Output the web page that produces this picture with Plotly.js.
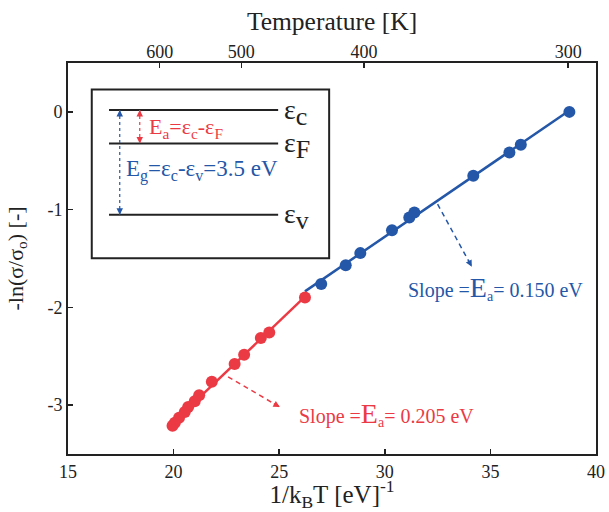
<!DOCTYPE html>
<html>
<head>
<meta charset="utf-8">
<script src="https://cdn.plot.ly/plotly-3.0.1.min.js"></script>
<style>html,body{margin:0;padding:0;background:#fff;}#chart{width:609px;height:512px;}</style>
</head>
<body>
<div id="chart"></div>
<script>
// ---- data ----
const blueX = [26.99, 28.15, 28.84, 30.34, 31.16, 31.40, 34.19, 35.90, 36.44, 38.74];
const blueY = [-1.76, -1.57, -1.445, -1.21, -1.08, -1.03, -0.654, -0.416, -0.337, 0.0];
const redX = [19.95, 20.06, 20.26, 20.53, 20.69, 21.00, 21.21, 21.81, 22.89, 23.34, 24.13, 24.53, 26.22];
const redY = [-3.21, -3.18, -3.13, -3.07, -3.02, -2.96, -2.90, -2.76, -2.58, -2.485, -2.314, -2.257, -1.90];
const tempK = [600, 500, 400, 300];
const tempLabels = ['600', '500', '400', '300'];
const xTickVals = [15, 20, 25, 30, 35, 40];
const xTickText = ['15', '20', '25', '30', '35', '40'];
const yTickVals = [0, -1, -2, -3];
const yTickText = ['0', '-1', '-2', '-3'];
const kB = 8.617333e-5; // eV/K

const BLUE = '#2457a8';
const RED = '#ec3a45';
const INK = '#222222';
const FONT = 'Liberation Serif';

function fit(xs, ys) {
  const n = xs.length;
  const mx = xs.reduce((a, b) => a + b, 0) / n;
  const my = ys.reduce((a, b) => a + b, 0) / n;
  let sxy = 0, sxx = 0;
  for (let i = 0; i < n; i++) { sxy += (xs[i] - mx) * (ys[i] - my); sxx += (xs[i] - mx) ** 2; }
  const m = sxy / sxx;
  return { m: m, b: my - m * mx };
}
const fb = fit(blueX, blueY);
const fr = fit(redX, redY);
const blueLineX = [Math.max(...redX), Math.max(...blueX)];
const redLineX = [Math.min(...redX), Math.max(...redX)];
const tempTickX = tempK.map(T => 1 / (kB * T));

const traces = [
  { x: redLineX, y: redLineX.map(v => fr.m * v + fr.b), mode: 'lines', line: { color: RED, width: 2.5 }, hoverinfo: 'skip', showlegend: false },
  { x: blueLineX, y: blueLineX.map(v => fb.m * v + fb.b), mode: 'lines', line: { color: BLUE, width: 2.5 }, hoverinfo: 'skip', showlegend: false },
  { x: redX, y: redY, mode: 'markers', marker: { color: RED, size: 12 }, showlegend: false },
  { x: blueX, y: blueY, mode: 'markers', marker: { color: BLUE, size: 12 }, showlegend: false },
  { x: tempTickX, y: tempTickX.map(() => null), xaxis: 'x2', mode: 'markers', showlegend: false, hoverinfo: 'skip' }
];

// inset geometry (paper coords)
const box = { x0: 0.045, x1: 0.4946, y0: 0.5004, y1: 0.9325 };
const lvl = { c: 0.8795, F: 0.794, v: 0.6118 };
const lvlX = [0.0777, 0.398];
const blueArrX = 0.098, redArrX = 0.1359;

const shapes = [
  { type: 'rect', xref: 'paper', yref: 'paper', x0: box.x0, x1: box.x1, y0: box.y0, y1: box.y1, line: { color: INK, width: 2 } },
  { type: 'line', xref: 'paper', yref: 'paper', x0: lvlX[0], x1: lvlX[1], y0: lvl.c, y1: lvl.c, line: { color: INK, width: 2 } },
  { type: 'line', xref: 'paper', yref: 'paper', x0: lvlX[0], x1: lvlX[1], y0: lvl.F, y1: lvl.F, line: { color: INK, width: 2 } },
  { type: 'line', xref: 'paper', yref: 'paper', x0: lvlX[0], x1: lvlX[1], y0: lvl.v, y1: lvl.v, line: { color: INK, width: 2 } },
  { type: 'line', xref: 'paper', yref: 'paper', x0: blueArrX, x1: blueArrX, y0: lvl.c, y1: lvl.v, line: { color: BLUE, width: 1.2, dash: '3px,3px' } },
  { type: 'line', xref: 'paper', yref: 'paper', x0: redArrX, x1: redArrX, y0: lvl.c, y1: lvl.F, line: { color: RED, width: 1.2, dash: '3px,3px' } },
  // slope pointer arrows (dashed)
  { type: 'line', xref: 'x', yref: 'y', x0: 32.50, y0: -0.944, x1: 34.12, y1: -1.585, line: { color: BLUE, width: 1.5, dash: '5px,4px' } },
  { type: 'line', xref: 'x', yref: 'y', x0: 22.58, y0: -2.71, x1: 25.03, y1: -3.02, line: { color: RED, width: 1.5, dash: '5px,4px' } }
];

function head(x, y, xref, yref, ax, ay, color) {
  return { x: x, y: y, xref: xref, yref: yref, ax: ax, ay: ay, text: '', showarrow: true,
           arrowhead: 2, arrowsize: 1, arrowwidth: 1.3, arrowcolor: color };
}

const annotations = [
  head(blueArrX, lvl.c, 'paper', 'paper', 0, 7, BLUE),
  head(blueArrX, lvl.v, 'paper', 'paper', 0, -7, BLUE),
  head(redArrX, lvl.c, 'paper', 'paper', 0, 7, RED),
  head(redArrX, lvl.F, 'paper', 'paper', 0, -7, RED),
  head(34.12, -1.585, 'x', 'y', -4, -7.5, BLUE),
  head(25.03, -3.02, 'x', 'y', -7.5, -4.3, RED),
  { xref: 'paper', yref: 'paper', x: 0.405, y: 0.874, xanchor: 'left', yanchor: 'middle', showarrow: false,
    text: 'ε<sub><span style="font-size:26px">c</span></sub>', font: { family: FONT, size: 28, color: INK } },
  { xref: 'paper', yref: 'paper', x: 0.405, y: 0.790, xanchor: 'left', yanchor: 'middle', showarrow: false,
    text: 'ε<sub><span style="font-size:26px">F</span></sub>', font: { family: FONT, size: 28, color: INK } },
  { xref: 'paper', yref: 'paper', x: 0.405, y: 0.608, xanchor: 'left', yanchor: 'middle', showarrow: false,
    text: 'ε<sub><span style="font-size:26px">v</span></sub>', font: { family: FONT, size: 28, color: INK } },
  { xref: 'paper', yref: 'paper', x: 0.1497, y: 0.835, xanchor: 'left', yanchor: 'middle', showarrow: false,
    text: 'E<sub>a</sub>=ε<sub>c</sub>-ε<sub>F</sub>', font: { family: FONT, size: 22, color: RED } },
  { xref: 'paper', yref: 'paper', x: 0.1060, y: 0.724, xanchor: 'left', yanchor: 'middle', showarrow: false,
    text: 'E<sub>g</sub>=ε<sub>c</sub>-ε<sub>v</sub>=3.5 eV', font: { family: FONT, size: 23, color: BLUE } },
  { xref: 'x', yref: 'y', x: 35.25, y: -1.80, xanchor: 'center', yanchor: 'middle', showarrow: false,
    text: 'Slope =<span style="font-size:28px">E</span><sub>a</sub>= 0.150 eV', font: { family: FONT, size: 20, color: BLUE } },
  { xref: 'x', yref: 'y', x: 30.06, y: -3.09, xanchor: 'center', yanchor: 'middle', showarrow: false,
    text: 'Slope =<span style="font-size:28px">E</span><sub>a</sub>= 0.205 eV', font: { family: FONT, size: 20, color: RED } }
];

const layout = {
  width: 609, height: 512,
  margin: { l: 68, r: 13, t: 63, b: 58 },
  paper_bgcolor: '#fff', plot_bgcolor: '#fff',
  font: { family: FONT, color: INK, size: 18 },
  showlegend: false,
  xaxis: {
    range: [15, 40], tickvals: xTickVals, ticktext: xTickText,
    ticks: 'inside', ticklen: 5, tickwidth: 1.5, tickcolor: INK,
    showline: true, linecolor: INK, linewidth: 2, mirror: true,
    showgrid: false, zeroline: false,
    tickfont: { family: FONT, size: 18, color: INK },
    title: { text: '1/k<sub>B</sub>T [eV]<sup>-1</sup>', font: { family: FONT, size: 25, color: INK }, standoff: 7 }
  },
  xaxis2: {
    overlaying: 'x', side: 'top', range: [15, 40], anchor: 'y',
    tickvals: tempTickX, ticktext: tempLabels,
    ticks: 'inside', ticklen: 5, tickwidth: 1.5, tickcolor: INK,
    showline: false, showgrid: false, zeroline: false,
    tickfont: { family: FONT, size: 18, color: INK },
    title: { text: 'Temperature [K]', font: { family: FONT, size: 25.5, color: INK }, standoff: 4 }
  },
  yaxis: {
    range: [-3.5, 0.5], tickvals: yTickVals, ticktext: yTickText,
    ticks: 'inside', ticklen: 5, tickwidth: 1.5, tickcolor: INK,
    showline: true, linecolor: INK, linewidth: 2, mirror: true,
    showgrid: false, zeroline: false,
    tickfont: { family: FONT, size: 18, color: INK },
    title: { text: '-ln(σ/σ<sub>o</sub>) [-]', font: { family: FONT, size: 22, color: INK }, standoff: 18 }
  },
  shapes: shapes,
  annotations: annotations
};

Plotly.newPlot('chart', traces, layout, { displayModeBar: false, staticPlot: true });
</script>
</body>
</html>
